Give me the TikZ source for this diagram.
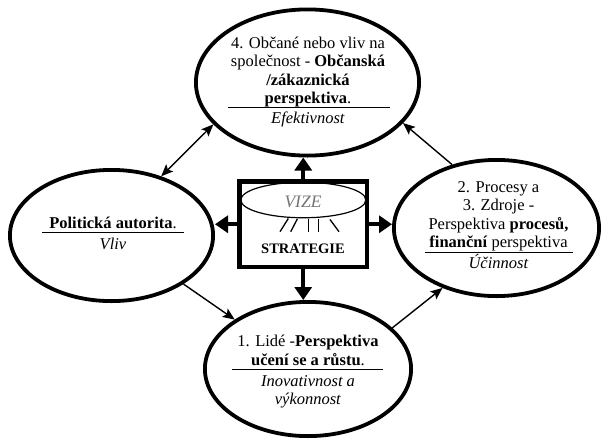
\documentclass[tikz,border=0pt]{standalone}
\usepackage{fontspec}
\setmainfont{Liberation Serif}
\usetikzlibrary{arrows.meta,shapes.geometric}
\begin{document}
\begin{tikzpicture}[x=1pt,y=-1pt,
  persp/.style={ellipse, draw, line width=3.8pt, inner sep=0pt},
  txt/.style={align=center, inner sep=0pt, font=\fontsize{16.5}{18.5}\selectfont},
  rulebar/.style={line width=1pt},
  ray/.style={line width=1.3pt},
  bigarrow/.style={line width=4pt, -{Triangle[length=13pt,width=17pt]}},
  link/.style={line width=1.4pt},
  >={Stealth[length=12pt,width=10pt,inset=2.5pt]}
]
\useasboundingbox (0,0) rectangle (602,440);

% the four perspectives
\node[persp, minimum width=223.2pt, minimum height=146.2pt] (top) at (307.5,82.5) {};
\node[persp, minimum width=203.2pt, minimum height=131.2pt] (left) at (111.5,235.5) {};
\node[persp, minimum width=205.2pt, minimum height=136.2pt] (right) at (496.5,228) {};
\node[persp, minimum width=206.2pt, minimum height=134.2pt] (bottom) at (308,369) {};

% texts of the perspectives
\node[txt, anchor=north] (toptext) at (308,35.05)
  {\strut 4. Občané nebo vliv na\\společnost - \textbf{Občanská}\\\textbf{/zákaznická}\\\textbf{perspektiva}.};
\draw[rulebar] (228,107) -- (390,107);
\node[txt, anchor=base] (topsub) at (308,123) {\textit{Efektivnost}};

\node[txt, anchor=base] (lefttext) at (113,228) {\textbf{Politická autorita}.};
\draw[rulebar] (42,232) -- (184,232);
\node[txt, anchor=base] (leftsub) at (113,249) {\textit{Vliv}};

\node[txt, anchor=north] (righttext) at (498.5,179.05)
  {\strut 2. Procesy a\\3. Zdroje -\\Perspektiva \textbf{procesů,}\\\textbf{finanční} perspektiva};
\draw[rulebar] (425,252) -- (572.5,252);
\node[txt, anchor=base] (rightsub) at (498.5,268) {\textit{Účinnost}};

\node[txt, anchor=north] (bottomtext) at (308,333.55)
  {\strut 1. Lidé -\textbf{Perspektiva}\\\textbf{učení se a růstu}.};
\draw[rulebar] (232,369.5) -- (383,369.5);
\node[txt, anchor=north] (bottomsub) at (308,373.05)
  {\strut\textit{Inovativnost a}\\\textit{výkonnost}};

% central box: vision and strategy
\node[draw, line width=4.3pt, minimum width=127.5pt, minimum height=85.5pt, inner sep=0pt] (box) at (303.25,224.25) {};
\node[ellipse, draw, line width=1.2pt, minimum width=125pt, minimum height=35.5pt, inner sep=0pt] (vision) at (303.3,200) {};
\node[inner sep=0pt, text=black!55, font=\fontsize{17.5}{20}\selectfont\itshape] (vize) at (303,201.7) {VIZE};
\node[inner sep=0pt, anchor=base, font=\fontsize{14.5}{17}\selectfont\bfseries] (strategy) at (303,253.3) {STRATEGIE};
\draw[ray] (288.3,218.5) -- (280,231.7);
\draw[ray] (297.3,219) -- (290.7,231.7);
\draw[ray] (308.3,219) -- (308.3,231.7);
\draw[ray] (318.3,219) -- (318.3,231.7);
\draw[ray] (330,219.5) -- (339,231.7);

% arrows from the box
\draw[bigarrow] (box.north) -- (box.north |- top.south);
\draw[bigarrow] (box.west) -- (box.west -| left.east);
\draw[bigarrow] (box.east) -- (box.east -| right.west);
\draw[bigarrow] (box.south) -- (box.south |- bottom.north);

% links between perspectives
\draw[link, <->] (left.50.6) -- (top.204.7);
\draw[link, ->] (right.125.5) -- (top.337.9);
\draw[link, ->] (left.326.9) -- (bottom.146.3);
\draw[link, ->] (bottom.26.8) -- (right.228.4);
\end{tikzpicture}
\end{document}
